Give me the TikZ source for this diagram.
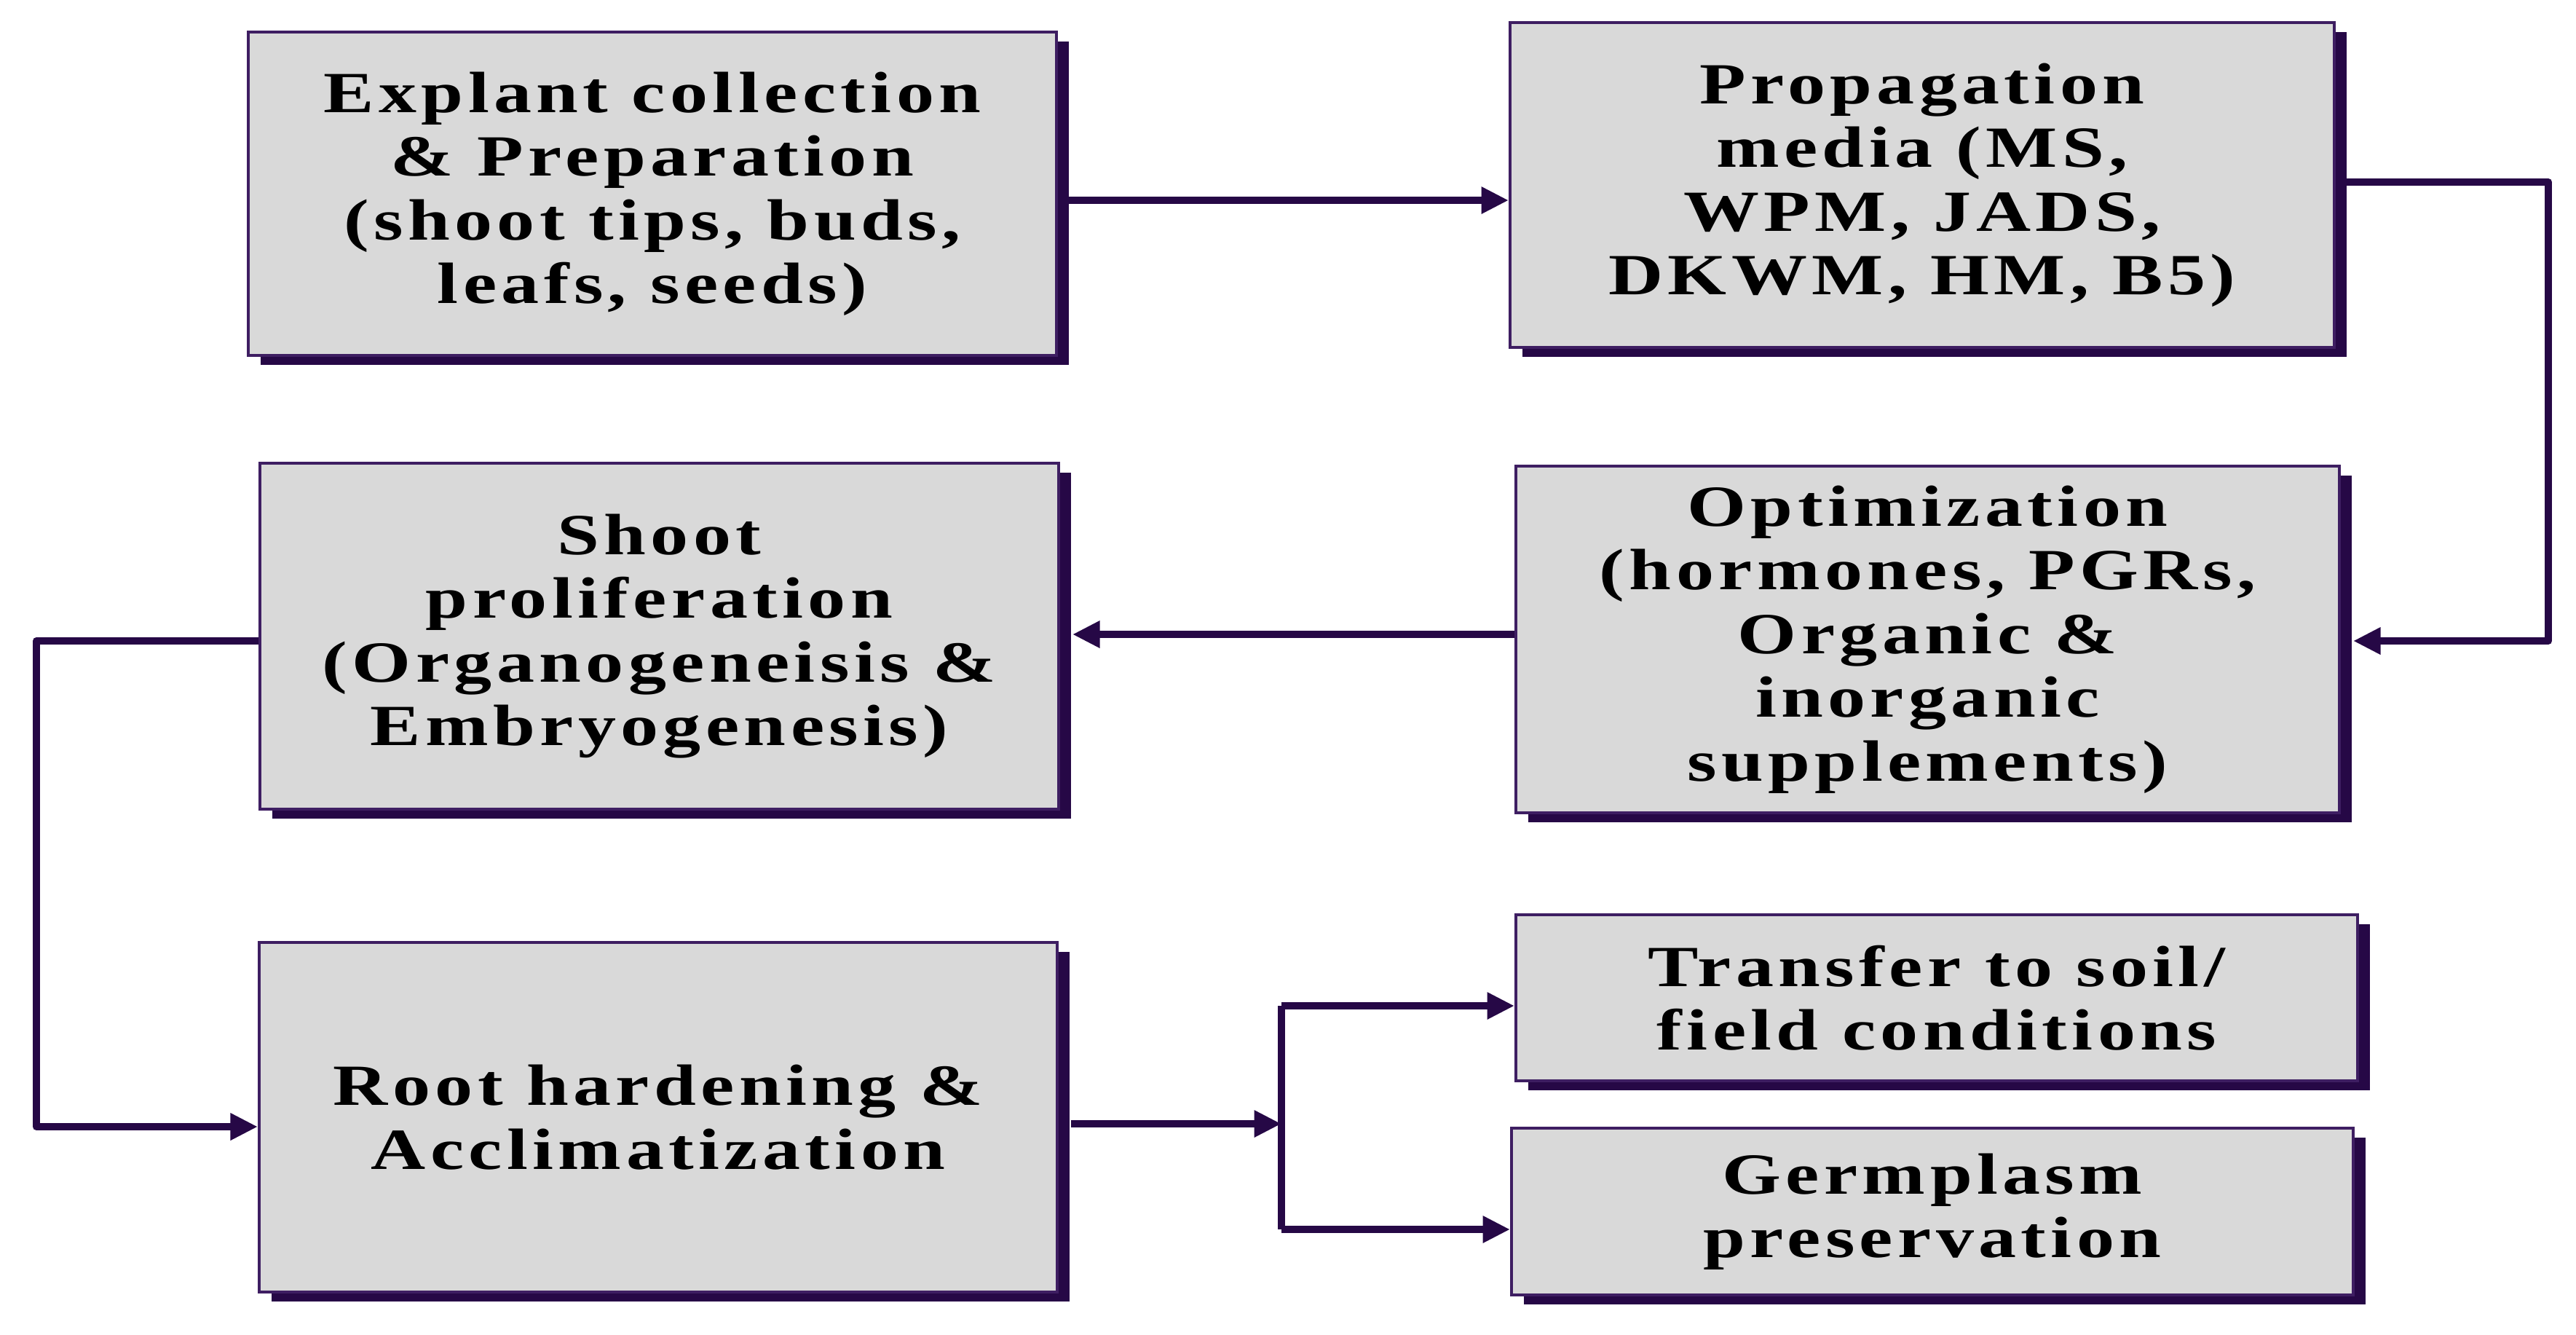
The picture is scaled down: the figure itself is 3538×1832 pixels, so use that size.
\documentclass[tikz,border=0pt]{standalone}
\usepackage{fontspec}
\setmainfont{Liberation Serif}[FakeStretch=1.3,LetterSpace=8]
\usetikzlibrary{arrows.meta,shadows}
\definecolor{dpurple}{HTML}{260846}
\definecolor{bpurple}{HTML}{3E1E62}
\definecolor{boxgray}{HTML}{D9D9D9}
\tikzset{
  box/.style={draw=bpurple, line width=0.8pt, fill=boxgray, inner sep=0pt,
    align=center, font=\fontsize{16}{17.5}\selectfont\bfseries,
    drop shadow={shadow xshift=3.4pt, shadow yshift=-2.6pt, fill=dpurple, opacity=1}},
  conn/.style={draw=dpurple, line width=2pt, line join=round},
  arr/.style={conn, -{Triangle[length=7.5pt,width=7pt]}}
}
\begin{document}
\begin{tikzpicture}[x=0.2pt,y=-0.2pt]
\useasboundingbox (0,0) rectangle (3538,1832);
\node[box, minimum width=222pt, minimum height=88.8pt] (b1) at (896,266)
  {Explant collection\\\& Preparation\\(shoot tips, buds,\\leafs, seeds)};
\node[box, minimum width=226.4pt, minimum height=89.2pt] (b2) at (2640,254)
  {Propagation\\media (MS,\\WPM, JADS,\\DKWM, HM, B5)};
\node[box, minimum width=219.4pt, minimum height=95pt] (b3) at (905.5,873.5)
  {Shoot\\proliferation\\(Organogeneisis \&\\Embryogenesis)};
\node[box, minimum width=226.2pt, minimum height=95.2pt] (b4) at (2647.5,878)
  {Optimization\\(hormones, PGRs,\\Organic \&\\inorganic\\supplements)};
\node[box, minimum width=219.2pt, minimum height=96pt] (b5) at (904,1534)
  {Root hardening \&\\Acclimatization};
\node[box, minimum width=231.2pt, minimum height=45.6pt] (b6) at (2660,1370)
  {Transfer to soil/\\field conditions};
\node[box, minimum width=231.2pt, minimum height=45.8pt] (b7) at (2654,1663.5)
  {Germplasm\\preservation};
% connectors
\coordinate (c2a) at (3500,250);
\coordinate (c2b) at (3500,880);
\coordinate (c3a) at (50,880);
\coordinate (c3b) at (50,1547);
\coordinate (cs) at (1760,1543);
\coordinate (cst) at (1760,1381);
\coordinate (csb) at (1760,1688);
\draw[arr] (b1.east |- 0,275) -- (b2.west |- 0,275);
\draw[arr] (b2.east |- c2a) -- (c2a) -- (c2b) -- ([xshift=3.4pt]b4.east |- c2b);
\draw[arr] (b4.west |- 0,871) -- ([xshift=3.4pt]b3.east |- 0,871);
\draw[arr] (b3.west |- c3a) -- (c3a) -- (c3b) -- (b5.west |- c3b);
\draw[arr] ([xshift=3.4pt]b5.east |- cs) -- (cs);
\draw[conn] (cst) -- (csb);
\draw[arr] (cst) -- (b6.west |- cst);
\draw[arr] (csb) -- (b7.west |- csb);
\end{tikzpicture}
\end{document}
